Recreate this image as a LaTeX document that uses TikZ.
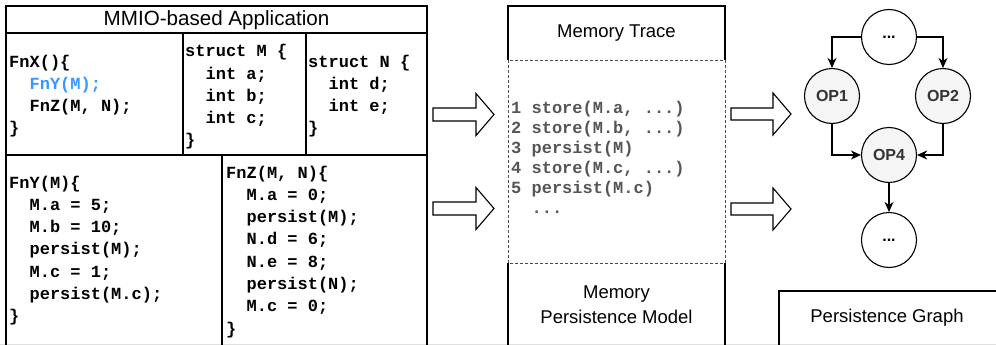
\documentclass[tikz,border=0pt]{standalone}
\usepackage{fontspec}
\setmainfont{Liberation Sans}
\newfontfamily\codefont{Liberation Mono}
\usetikzlibrary{arrows.meta}
\definecolor{codeblue}{HTML}{3399FF}
\definecolor{opfill}{HTML}{F5F5F5}
\definecolor{optext}{HTML}{333333}
\definecolor{tracegray}{HTML}{555555}
\tikzset{
  box/.style={draw=black,line width=1.1pt},
  codetxt/.style={font=\codefont\bfseries\fontsize{17}{20}\selectfont,inner sep=0pt,anchor=base west},
  tracetxt/.style={codetxt,text=tracegray},
  lbl/.style={font=\fontsize{18.5}{25}\selectfont,inner sep=0pt,align=center},
  opnode/.style={circle,draw=black,line width=1.1pt,minimum size=55pt,inner sep=0pt,fill=opfill,text=optext,font=\bfseries\fontsize{16}{18}\selectfont},
  dotnode/.style={opnode,fill=white,text=black},
  edge/.style={draw=black,line width=1.1pt,-{Stealth[length=10pt,width=9pt,inset=3pt]}},
  blockarrow/.style={draw=black,line width=1.1pt,fill=white,line join=miter},
  dsh/.style={draw=black!70,line width=0.9pt,dash pattern=on 3pt off 2pt}
}
\newcommand\ind{\hspace*{1.2em}}
\begin{document}
\begin{tikzpicture}[x=1pt,y=-1pt]
\useasboundingbox (0,0) rectangle (996,345);
% bottom light line
\draw[black!12,line width=1pt] (0,344) -- (996,344);
% left application box
\draw[box] (6,350) -- (6,6) -- (427,6) -- (427,350);
\draw[box] (6,33) -- (427,33);
\draw[box] (183,33) -- (183,155);
\draw[box] (306,33) -- (306,155);
\draw[box] (6,155) -- (427,155);
\draw[box] (222,155) -- (222,350);
\node[lbl,font=\fontsize{20.6}{25}\selectfont] (apptitle) at (216.5,20) {MMIO-based Application};
% FnX
\node[codetxt] (x0) at (9,67) {FnX()\{};
\node[codetxt,text=codeblue] (x1) at (9,89.2) {\ind FnY(M);};
\node[codetxt] (x2) at (9,111.4) {\ind FnZ(M, N);};
\node[codetxt] (x3) at (9,133.6) {\}};
% struct M
\node[codetxt] (m0) at (185,57) {struct M \{};
\node[codetxt] (m1) at (185,79.2) {\ind int a;};
\node[codetxt] (m2) at (185,101.4) {\ind int b;};
\node[codetxt] (m3) at (185,123.6) {\ind int c;};
\node[codetxt] (m4) at (185,145.8) {\}};
% struct N
\node[codetxt] (n0) at (308,67) {struct N \{};
\node[codetxt] (n1) at (308,89.2) {\ind int d;};
\node[codetxt] (n2) at (308,111.4) {\ind int e;};
\node[codetxt] (n3) at (308,133.6) {\}};
% FnY
\node[codetxt] (y0) at (9,188) {FnY(M)\{};
\node[codetxt] (y1) at (9,210.3) {\ind M.a = 5;};
\node[codetxt] (y2) at (9,232.6) {\ind M.b = 10;};
\node[codetxt] (y3) at (9,254.9) {\ind persist(M);};
\node[codetxt] (y4) at (9,277.2) {\ind M.c = 1;};
\node[codetxt] (y5) at (9,299.5) {\ind persist(M.c);};
\node[codetxt] (y6) at (9,321.8) {\}};
% FnZ
\node[codetxt] (z0) at (226,178) {FnZ(M, N)\{};
\node[codetxt] (z1) at (226,200.3) {\ind M.a = 0;};
\node[codetxt] (z2) at (226,222.6) {\ind persist(M);};
\node[codetxt] (z3) at (226,244.9) {\ind N.d = 6;};
\node[codetxt] (z4) at (226,267.2) {\ind N.e = 8;};
\node[codetxt] (z5) at (226,289.5) {\ind persist(N);};
\node[codetxt] (z6) at (226,311.8) {\ind M.c = 0;};
\node[codetxt] (z7) at (226,334.1) {\}};
% block arrows left
\foreach \cy in {114.5, 208.5}{
  \draw[blockarrow] (433,\cy-6.5) -- (476,\cy-6.5) -- (476,\cy-21) -- (494,\cy) -- (476,\cy+21) -- (476,\cy+6.5) -- (433,\cy+6.5) -- cycle;
}
% memory trace column
\draw[box] (508,60) -- (508,6) -- (725,6) -- (725,60);
\draw[dsh] (508,60) rectangle (725,263);
\draw[box] (508,350) -- (508,263);
\draw[box] (725,350) -- (725,263);
\node[lbl] (mtrace) at (616.5,33) {Memory Trace};
\node[lbl] (mpm) at (616.5,304.5) {Memory\\[-0.5pt]Persistence Model};
\node[tracetxt] (t1) at (511,113) {1 store(M.a, ...)};
\node[tracetxt] (t2) at (511,133) {2 store(M.b, ...)};
\node[tracetxt] (t3) at (511,153) {3 persist(M)};
\node[tracetxt] (t4) at (511,173) {4 store(M.c, ...)};
\node[tracetxt] (t5) at (511,193) {5 persist(M.c)};
\node[tracetxt] (t6) at (511,213) {\ind ...};
% block arrows right
\foreach \cy in {114, 209}{
  \draw[blockarrow] (731,\cy-6) -- (773,\cy-6) -- (773,\cy-21) -- (791,\cy) -- (773,\cy+21) -- (773,\cy+6) -- (731,\cy+6) -- cycle;
}
% graph
\node[dotnode] (top) at (889,37) {...};
\node[opnode] (op1) at (832,96) {OP1};
\node[opnode] (op2) at (943,96) {OP2};
\node[opnode] (op4) at (889,155) {OP4};
\node[dotnode] (bot) at (889,240) {...};
\draw[edge] (top.west) -| (op1.north);
\draw[edge] (top.east) -| (op2.north);
\draw[edge] (op1.south) |- (op4.west);
\draw[edge] (op2.south) |- (op4.east);
\draw[edge] (op4.south) -- (bot.north);
% persistence graph box
\draw[box] (779,350) -- (779,291) -- (1000,291);
\node[lbl] (pg) at (887,318) {Persistence Graph};
\end{tikzpicture}
\end{document}
